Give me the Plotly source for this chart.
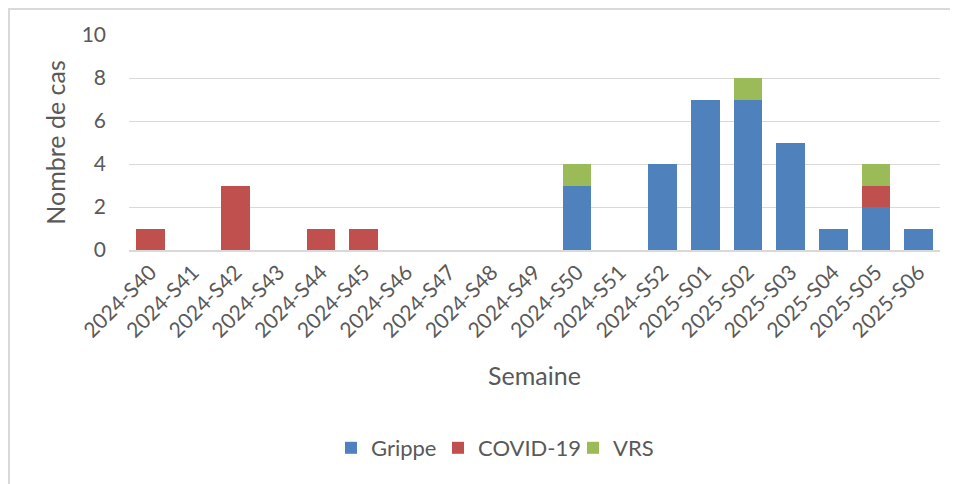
import plotly.graph_objects as go

semaines = ["2024-S40", "2024-S41", "2024-S42", "2024-S43", "2024-S44", "2024-S45",
            "2024-S46", "2024-S47", "2024-S48", "2024-S49", "2024-S50", "2024-S51",
            "2024-S52", "2025-S01", "2025-S02", "2025-S03", "2025-S04", "2025-S05",
            "2025-S06"]
grippe = [0, 0, 0, 0, 0, 0, 0, 0, 0, 0, 3, 0, 4, 7, 7, 5, 1, 2, 1]
covid = [1, 0, 3, 0, 1, 1, 0, 0, 0, 0, 0, 0, 0, 0, 0, 0, 0, 1, 0]
vrs = [0, 0, 0, 0, 0, 0, 0, 0, 0, 0, 1, 0, 0, 0, 1, 0, 0, 1, 0]

FONT = "Lato"
TXT = "#595959"
GRID = "#D9D9D9"

fig = go.Figure()
fig.add_trace(go.Bar(x=semaines, y=grippe, name="Grippe", legendwidth=62,
                     marker=dict(color="#4F81BD", line=dict(width=0))))
fig.add_trace(go.Bar(x=semaines, y=covid, name="COVID-19", legendwidth=90,
                     marker=dict(color="#C0504D", line=dict(width=0))))
fig.add_trace(go.Bar(x=semaines, y=vrs, name="VRS",
                     marker=dict(color="#9BBB59", line=dict(width=0))))

# page has an 8px body margin: figure coords = page coords - 8
OFF = 8
W, H = 958, 484
L = 129 - OFF
T = 35 - OFF
R = W - (940 - OFF)
B = H - (250 - OFF)
pw = W - L - R
ph = H - T - B

def px_x(p):  # page px -> paper x
    return (p - OFF - L) / pw

def px_y(p):  # page px -> paper y
    return (T + ph - (p - OFF)) / ph

fig.update_layout(
    width=W, height=H,
    margin=dict(l=L, r=R, t=T, b=B, autoexpand=False),
    barmode="stack",
    bargap=0.33,
    plot_bgcolor="white",
    paper_bgcolor="white",
    font=dict(family=FONT, color=TXT, size=21),
    showlegend=True,
    legend=dict(
        orientation="h",
        x=px_x(331), xanchor="left",
        y=px_y(448), yanchor="middle",
        font=dict(family=FONT, size=22, color=TXT),
        itemwidth=30,
        traceorder="normal",
    ),
)

fig.update_xaxes(
    type="category",
    tickangle=-45,
    tickfont=dict(family=FONT, size=21, color=TXT),
    showgrid=False,
    showline=True, linecolor=GRID, linewidth=1.5,
    ticks="",
    automargin=False,
    title=dict(text="Semaine", font=dict(family=FONT, size=25, color=TXT), standoff=27),
)
fig.update_yaxes(
    range=[0, 10],
    dtick=2,
    tickfont=dict(family=FONT, size=21, color=TXT),
    showgrid=True, gridcolor=GRID, gridwidth=1,
    zeroline=False,
    showline=False,
    ticks="",
    ticklabelstandoff=22,
    automargin=False,
    title=dict(text="Nombre de cas", font=dict(family=FONT, size=25, color=TXT), standoff=8),
)

# chart-area border (top and left visible)
fig.add_shape(type="rect", xref="paper", yref="paper",
              x0=px_x(9), x1=px_x(W + 40),
              y0=px_y(H + 40), y1=px_y(9),
              line=dict(color=GRID, width=2), fillcolor="rgba(0,0,0,0)", layer="below")

fig.write_html("out.html")
